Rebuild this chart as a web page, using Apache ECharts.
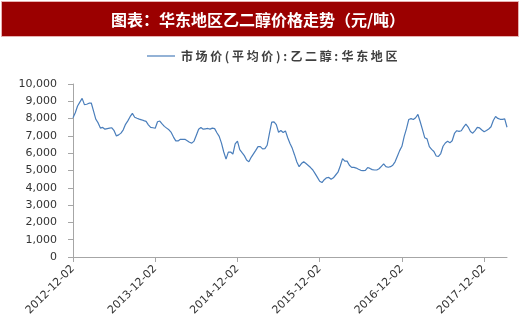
<!DOCTYPE html>
<html>
<head>
<meta charset="utf-8">
<script src="https://cdn.jsdelivr.net/npm/echarts@6/dist/echarts.min.js"></script>
<style>
html,body{margin:0;padding:0;background:#fff;}
#c{width:520px;height:336px;}
</style>
</head>
<body>
<div id="c"></div>
<script>
// Title and legend text
var chartTitle = '图表：华东地区乙二醇价格走势（元/吨）';
var seriesName = '市场价(平均价):乙二醇:华东地区';

// Y-axis tick values
var yTicks = [0, 1000, 2000, 3000, 4000, 5000, 6000, 7000, 8000, 9000, 10000];

// Sample dates: 3 per month (02, 12, 22) from 2012-12-02 to 2018-03-12
var sampleDays = ['02', '12', '22'];
var dates = [];
(function () {
  var y = 2012, m = 12;
  while (dates.length < 191) {
    for (var k = 0; k < sampleDays.length && dates.length < 191; k++) {
      dates.push(y + '-' + (m < 10 ? '0' + m : m) + '-' + sampleDays[k]);
    }
    m++; if (m > 12) { m = 1; y++; }
  }
})();

// Price values (yuan/ton)
var prices = [
  8050, 8340, 8730, 8950, 9170, 8810, 8830, 8890, 8900, 8430,
  7960, 7750, 7450, 7490, 7390, 7420, 7450, 7470, 7300, 7000,
  7060, 7160, 7350, 7670, 7870, 8110, 8300, 8080, 8020, 7970,
  7930, 7880, 7840, 7640, 7490, 7470, 7440, 7820, 7860, 7690,
  7550, 7450, 7350, 7200, 6930, 6710, 6710, 6800, 6800, 6800,
  6720, 6630, 6580, 6700, 7040, 7380, 7480, 7390, 7410, 7430,
  7390, 7450, 7420, 7180, 6970, 6580, 6070, 5660, 6060, 6070,
  5950, 6540, 6700, 6210, 6030, 5860, 5610, 5500, 5760, 5960,
  6160, 6380, 6380, 6250, 6260, 6460, 7150, 7800, 7810, 7650,
  7210, 7310, 7200, 7290, 6890, 6560, 6280, 5900, 5490, 5220,
  5400, 5510, 5400, 5290, 5170, 5030, 4820, 4600, 4380, 4300,
  4470, 4580, 4600, 4500, 4580, 4740, 4900, 5260, 5690, 5540,
  5540, 5300, 5180, 5180, 5140, 5070, 5010, 4990, 5010, 5170,
  5120, 5050, 5030, 5030, 5100, 5240, 5380, 5220, 5190, 5220,
  5310, 5500, 5820, 6150, 6400, 6970, 7420, 7950, 8000, 7950,
  8050, 8240, 7820, 7360, 6890, 6830, 6380, 6220, 6100, 5840,
  5810, 5980, 6400, 6590, 6690, 6600, 6720, 7140, 7300, 7260,
  7300, 7510, 7680, 7510, 7250, 7160, 7310, 7490, 7460, 7340,
  7240, 7310, 7400, 7530, 7890, 8120, 8010, 7960, 7960, 7980,
  7500
];

var chart = echarts.init(document.getElementById('c'), null, {renderer: 'canvas'});
var labelFont = 'DejaVu Sans';
var lineColor = '#4a7ebb';
function isTickDate(idx, val) { return /-12-02$/.test(val); }

// Legend: line sample + spaced-out series name (the reference uses wide letter spacing)
var legendGraphics = [
  {
    type: 'line',
    shape: {x1: 147, y1: 56, x2: 175, y2: 56},
    style: {stroke: lineColor, lineWidth: 1.2},
    z: 1
  }
];
(function () {
  var gx = 181, pitch = 14.6;
  var chars = seriesName.split('');
  var group = {type: 'group', children: [], z: 1};
  chars.forEach(function (ch) {
    var narrow = /[():]/.test(ch);
    group.children.push({
      type: 'text',
      x: gx, y: 56,
      style: {
        text: ch,
        fill: '#404040',
        font: 'bold 12px "Noto Sans CJK SC"',
        textAlign: 'left',
        textVerticalAlign: 'middle'
      }
    });
    gx += narrow ? pitch * 0.5 : pitch;
  });
  legendGraphics.push(group);
})();

chart.setOption({
  animation: false,
  backgroundColor: '#ffffff',
  graphic: [
    {
      type: 'rect',
      shape: {x: 1.5, y: 1.5, width: 517, height: 35},
      style: {fill: '#9b0000', stroke: '#e8b0b0', lineWidth: 1},
      z: 0
    },
    {
      type: 'text',
      x: 258, y: 20,
      style: {
        text: chartTitle,
        fill: '#ffffff',
        font: 'bold 16px "Noto Sans CJK SC"',
        textAlign: 'center',
        textVerticalAlign: 'middle'
      },
      z: 1
    }
  ].concat(legendGraphics),
  legend: {show: false},
  grid: {left: 73, right: 13, top: 84, bottom: 79, containLabel: false},
  xAxis: {
    type: 'category',
    data: dates,
    boundaryGap: false,
    axisLine: {show: true, lineStyle: {color: '#a6a6a6', width: 1}},
    axisTick: {show: true, interval: isTickDate, length: 5, lineStyle: {color: '#a6a6a6'}},
    axisLabel: {
      interval: isTickDate,
      rotate: 45,
      margin: 10,
      fontFamily: labelFont,
      fontSize: 11,
      color: '#333333'
    },
    splitLine: {show: false}
  },
  yAxis: {
    type: 'value',
    min: yTicks[0],
    max: yTicks[yTicks.length - 1],
    interval: yTicks[1] - yTicks[0],
    axisLine: {show: true, lineStyle: {color: '#a6a6a6', width: 1}},
    axisTick: {show: true, length: 5, lineStyle: {color: '#a6a6a6'}},
    axisLabel: {
      margin: 16,
      fontFamily: labelFont,
      fontSize: 11,
      color: '#333333',
      formatter: function (v) { return v.toLocaleString('en-US'); }
    },
    splitLine: {show: false}
  },
  series: [{
    name: seriesName,
    type: 'line',
    data: prices,
    symbol: 'none',
    smooth: false,
    lineStyle: {color: lineColor, width: 1.2},
    itemStyle: {color: lineColor}
  }]
});
</script>
</body>
</html>
